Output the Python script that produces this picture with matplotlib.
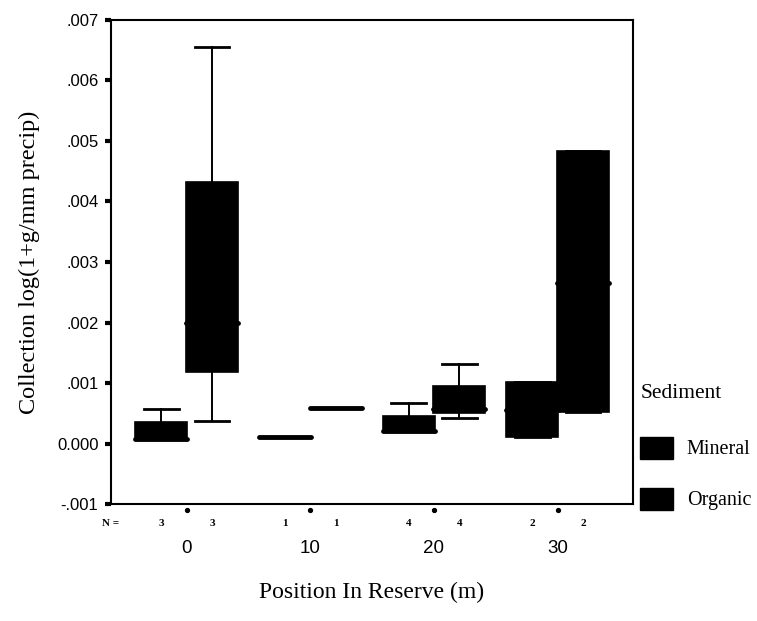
import matplotlib
matplotlib.use("Agg")
import matplotlib.pyplot as plt
from matplotlib.patches import Patch
from matplotlib.transforms import blended_transform_factory

# data
groups = ['0', '10', '20', '30']
n_counts = [3, 1, 4, 2]
sediments = ['Mineral', 'Organic']

mineral_whislo = [0.00008, 0.00011, 0.00020, 0.00011]
mineral_q1 = [0.00008, 0.00011, 0.00020, 0.00011]
mineral_med = [0.00008, 0.00011, 0.00020, 0.00055]
mineral_q3 = [0.00035, 0.00011, 0.00045, 0.00102]
mineral_whishi = [0.00057, 0.00011, 0.00067, 0.00102]

organic_whislo = [0.00038, 0.00059, 0.00042, 0.00052]
organic_q1 = [0.00118, 0.00059, 0.00050, 0.00052]
organic_med = [0.00200, 0.00059, 0.00057, 0.00266]
organic_q3 = [0.00433, 0.00059, 0.00095, 0.00483]
organic_whishi = [0.00656, 0.00059, 0.00132, 0.00483]

yticks = [-0.001, 0.0, 0.001, 0.002, 0.003, 0.004, 0.005, 0.006, 0.007]
ytick_labels = ['-.001', '0.000', '.001', '.002', '.003', '.004', '.005', '.006', '.007']

serif = 'Liberation Serif'
sans = 'Liberation Sans'


def make_stats(lo, q1, med, q3, hi):
    stats = []
    for i in range(len(lo)):
        stats.append({'whislo': lo[i], 'q1': q1[i], 'med': med[i],
                      'q3': q3[i], 'whishi': hi[i], 'fliers': []})
    return stats


fig = plt.figure(figsize=(7.57, 6.21), dpi=100)
ax = fig.add_axes([0.1466, 0.1884, 0.6896, 0.7794])

offset = 0.205
width = 0.42
x = list(range(len(groups)))

box_style = dict(patch_artist=True, showfliers=False, widths=width, capwidths=0.28,
                 boxprops=dict(facecolor='black', edgecolor='black', linewidth=1.2),
                 whiskerprops=dict(color='black', linewidth=1.4),
                 capprops=dict(color='black', linewidth=2.0),
                 medianprops=dict(color='black', linewidth=3.5, solid_capstyle='round'))

ax.bxp(make_stats(mineral_whislo, mineral_q1, mineral_med, mineral_q3, mineral_whishi),
       positions=[p - offset for p in x], **box_style)
ax.bxp(make_stats(organic_whislo, organic_q1, organic_med, organic_q3, organic_whishi),
       positions=[p + offset for p in x], **box_style)

ax.set_xlim(-0.612, 3.61)
ax.set_ylim(-0.001, 0.007)

ax.set_yticks(yticks, ytick_labels)
ax.set_xticks(x, groups)
ax.tick_params(axis='y', length=4, width=3, direction='out', pad=5)
ax.tick_params(axis='x', length=0, pad=26)
for lab in ax.get_yticklabels():
    lab.set_fontfamily(sans)
    lab.set_fontsize(12)
for lab in ax.get_xticklabels():
    lab.set_fontfamily(sans)
    lab.set_fontsize(13.5)

for s in ax.spines.values():
    s.set_linewidth(1.5)

# dots under the axis and N counts
trans = blended_transform_factory(ax.transData, ax.transAxes)
ax.plot(x, [-0.013] * len(x), 'o', color='black', ms=2.8, transform=trans, clip_on=False)
for i, n in enumerate(n_counts):
    for d in (-offset, offset):
        ax.text(x[i] + d, -0.04, str(n), transform=trans, ha='center', va='center',
                fontsize=8, fontweight='bold', family=serif)
ax.text(0.0, -0.04, 'N =', transform=ax.transAxes, ha='center', va='center',
        fontsize=8, fontweight='bold', family=serif)

ax.set_xlabel('Position In Reserve (m)', family=serif, fontsize=17, labelpad=18)
ax.set_ylabel('Collection log(1+g/mm precip)', family=serif, fontsize=17.5, labelpad=12)

handles = [Patch(facecolor='black', edgecolor='black') for s in sediments]
leg = fig.legend(handles, sediments, title='Sediment', loc='upper left',
                 bbox_to_anchor=(0.846, 0.381), frameon=False, alignment='left',
                 prop={'family': serif, 'size': 14.5},
                 title_fontproperties={'family': serif, 'size': 15.5},
                 handlelength=1.6, handleheight=1.3, handletextpad=0.7,
                 labelspacing=1.4, borderpad=0, borderaxespad=0)
leg._legend_box.sep = 24

fig.savefig('out.png', dpi=100)
